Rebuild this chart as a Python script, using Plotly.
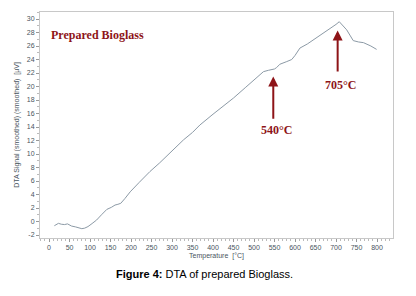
import plotly.graph_objects as go

temperature = [13, 18, 23, 30, 38, 45, 50, 55, 65, 75, 80, 87, 95, 105, 116, 128, 141, 152, 161, 168,
               175, 185, 198, 220, 246, 270, 287, 310, 328, 350, 368, 400, 430, 450, 480, 500, 523, 535,
               543, 550, 555, 563, 580, 592, 600, 612, 630, 645, 665, 685, 700, 708, 716, 726, 735, 742,
               755, 767, 785, 799]
dta_signal = [-0.62, -0.45, -0.27, -0.4, -0.45, -0.35, -0.5, -0.67, -0.8, -1.0, -1.06, -0.98, -0.75, -0.3,
              0.22, 1.0, 1.8, 2.1, 2.44, 2.55, 2.7, 3.4, 4.4, 5.8, 7.4, 8.7, 9.7, 11.0, 12.1, 13.2, 14.3,
              15.9, 17.3, 18.3, 19.9, 21.0, 22.2, 22.4, 22.5, 22.6, 22.8, 23.3, 23.7, 24.0, 24.6, 25.7,
              26.3, 26.9, 27.7, 28.6, 29.2, 29.6, 29.1, 28.4, 27.5, 26.8, 26.6, 26.5, 26.0, 25.5]

x_ticks = list(range(0, 801, 50))
y_ticks = list(range(-2, 31, 2))
y_tick_labels = [str(v) for v in y_ticks]

peak_labels = ["540°C", "705°C"]
peak_temps = [547, 704]
arrow_heads = [21.5, 28.3]
arrow_tails = [15.0, 22.0]
label_pos = [(555, 13.6), (710, 20.3)]

RED = "#8e1418"

fig = go.Figure()
fig.add_trace(go.Scatter(x=temperature, y=dta_signal, mode="lines",
                         line=dict(color="#8c9aa6", width=1), hoverinfo="skip"))

for t, h, tl, lab, (lx, ly) in zip(peak_temps, arrow_heads, arrow_tails, peak_labels, label_pos):
    fig.add_annotation(x=t, y=h, ax=t, ay=tl, axref="x", ayref="y", xref="x", yref="y",
                       showarrow=True, arrowhead=2, arrowsize=1, arrowwidth=2, arrowcolor=RED, text="")
    fig.add_annotation(x=lx, y=ly, xref="x", yref="y", showarrow=False, text=f"<b>{lab}</b>",
                       font=dict(family="Liberation Serif", size=12, color=RED))

fig.add_annotation(x=0, y=27.6, xref="x", yref="y", xanchor="left", showarrow=False,
                   text="<b>Prepared Bioglass</b>",
                   font=dict(family="Liberation Serif", size=12, color=RED))

fig.add_annotation(x=0.465, y=-0.195, xref="paper", yref="paper", showarrow=False,
                   text="<b>Figure 4:</b> DTA of prepared Bioglass.",
                   font=dict(family="Liberation Sans", size=11, color="#000"))

axis_common = dict(showgrid=False, zeroline=False, showline=True, linecolor="#c8c8c8", linewidth=1,
                   mirror=True, ticks="outside", ticklen=3, tickcolor="#999", automargin=False,
                   tickfont=dict(family="Liberation Sans", size=7, color="#4a5560"),
                   minor=dict(ticks="outside", ticklen=2, tickcolor="#bbb"))

fig.update_xaxes(range=[-22, 839], tickvals=x_ticks, ticktext=[str(v) for v in x_ticks],
                 title=dict(text="Temperature  [°C]", standoff=2,
                            font=dict(family="Liberation Sans", size=7, color="#4a5560")),
                 minor_dtick=10, **axis_common)
fig.update_yaxes(range=[-2.44, 31.04], tickvals=y_ticks, ticktext=y_tick_labels,
                 title=dict(text="DTA Signal (smoothed) (smoothed)  [µV]", standoff=6,
                            font=dict(family="Liberation Sans", size=7, color="#4a5560")),
                 minor_dtick=1, **axis_common)

fig.update_layout(width=416, height=296, margin=dict(l=40, r=23, t=12, b=58),
                  paper_bgcolor="white", plot_bgcolor="white", showlegend=False)

fig.write_html("out.html", config={"displayModeBar": False},
               post_script="document.body.style.margin='0';")
